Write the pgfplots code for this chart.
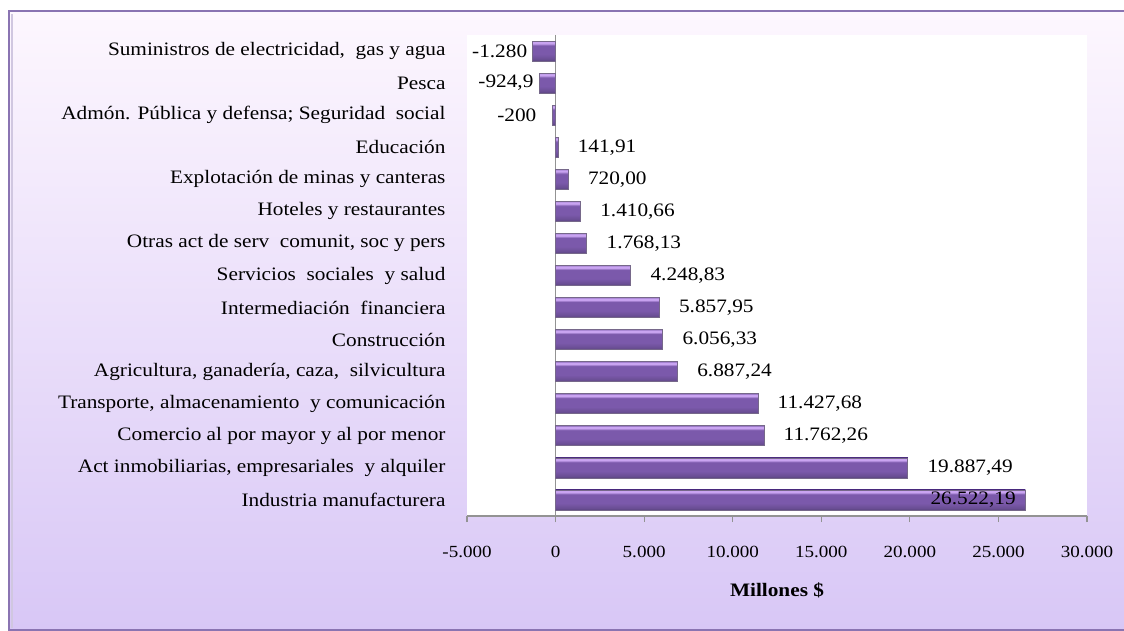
\documentclass[border=0pt]{standalone}
\usepackage{pgfplots}
\pgfplotsset{compat=1.18}
\usepackage{fontspec}
\setmainfont{Liberation Serif}[FakeStretch=1.12]
\definecolor{bdark}{HTML}{5A4580}
\definecolor{bdark2}{HTML}{6A4E94}
\definecolor{bmid}{HTML}{7B59AB}
\definecolor{blight}{HTML}{C9A4F1}
\definecolor{bmid2}{HTML}{8E6CBC}
\definecolor{bedge}{HTML}{76688A}
\definecolor{ftop}{HTML}{FDF7FE}
\definecolor{fbot}{HTML}{D8C7F6}
\definecolor{fborder}{HTML}{8A74B2}
\pgfdeclareverticalshading{barshade}{100bp}{color(0bp)=(bdark); color(25bp)=(bdark); color(30bp)=(bdark2); color(42bp)=(bmid); color(64bp)=(bmid); color(69bp)=(blight); color(73bp)=(blight); color(75bp)=(bmid2); color(100bp)=(bmid2)}
% value, category index, label, anchor, xshift
\newcommand{\onebar}[5]{%
  \addplot[xbar, bar width=20pt, bar shift=0pt, draw=bedge, line width=0.8pt, shading=barshade,
    nodes near coords={#3}, nodes near coords style={anchor=#4, xshift=#5, text=black, font=\fontsize{19}{22}\selectfont}]
    coordinates {(#1,#2)};}

\begin{document}
\begin{tikzpicture}[x=1pt,y=1pt,font=\fontsize{19}{22}\selectfont]
\useasboundingbox (0,0) rectangle (1124,631);
\clip (0,0) rectangle (1124,631);
\shade[top color=ftop, bottom color=fbot] (9,1) rectangle (1140,620);
\draw[fborder, line width=2.5pt] (1140,620) -- (9,620) -- (9,1) -- (1140,1);
\draw[fborder!40, line width=2pt] (12,3) -- (12,617);
\begin{axis}[
  at={(467pt,115pt)}, anchor=south west,
  scale only axis, width=620pt, height=481pt,
  xmin=-5000, xmax=30000,
  ymin=-0.5, ymax=14.5, y dir=reverse,
  axis background/.style={fill=white},
  axis x line*=bottom, axis y line*=left,
  y axis line style={draw=none},
  x axis line style={draw=gray!85, line width=1.3pt},
  scaled x ticks=false,
  xtick={-5000,0,5000,10000,15000,20000,25000,30000},
  xticklabels={-5.000,0,5.000,10.000,15.000,20.000,25.000,30.000},
  xtick align=outside, major tick length=6pt,
  xtick style={draw=gray!85, line width=1.2pt},
  extra x ticks={0}, extra x tick labels={},
  extra x tick style={grid=major, major grid style={draw=gray!85, line width=1.5pt}},
  ytick={0,...,14},
  yticklabels={
    {Suministros de electricidad,\ \ gas y agua},
    {Pesca},
    {Admón. Pública y defensa; Seguridad\ \ social},
    {Educación},
    {Explotación de minas y canteras},
    {Hoteles y restaurantes},
    {Otras act de serv\ \ comunit, soc y pers},
    {Servicios\ \ sociales\ \ y salud},
    {Intermediación\ \ financiera},
    {Construcción},
    {Agricultura,\ ganadería,\ caza,\ \ silvicultura},
    {Transporte, almacenamiento\ \ y comunicación},
    {Comercio al por mayor y al por menor},
    {Act inmobiliarias, empresariales\ \ y alquiler},
    {Industria manufacturera}},
  ytick style={draw=none},
  yticklabel style={xshift=-18pt},
  xticklabel style={yshift=-21pt, font=\fontsize{17}{20}\selectfont},
  /pgf/number format/assume math mode=true,
  xlabel={Millones \$},
  xlabel style={font=\fontsize{19}{22}\selectfont\bfseries, yshift=-6pt},
  clip=false,
]
\onebar{-1280}{0}{-1.280}{east}{-2pt}
\onebar{-924.9}{1}{-924,9}{east}{-2pt}
\onebar{-200}{2}{-200}{east}{-12pt}
\onebar{141.91}{3}{141,91}{west}{16pt}
\onebar{720.00}{4}{720,00}{west}{16pt}
\onebar{1410.66}{5}{1.410,66}{west}{16pt}
\onebar{1768.13}{6}{1.768,13}{west}{16pt}
\onebar{4248.83}{7}{4.248,83}{west}{16pt}
\onebar{5857.95}{8}{5.857,95}{west}{16pt}
\onebar{6056.33}{9}{6.056,33}{west}{16pt}
\onebar{6887.24}{10}{6.887,24}{west}{16pt}
\onebar{11427.68}{11}{11.427,68}{west}{16pt}
\onebar{11762.26}{12}{11.762,26}{west}{16pt}
\onebar{19887.49}{13}{19.887,49}{west}{16pt}
\onebar{26522.19}{14}{26.522,19}{east}{-6pt}
\end{axis}
\end{tikzpicture}
\end{document}
